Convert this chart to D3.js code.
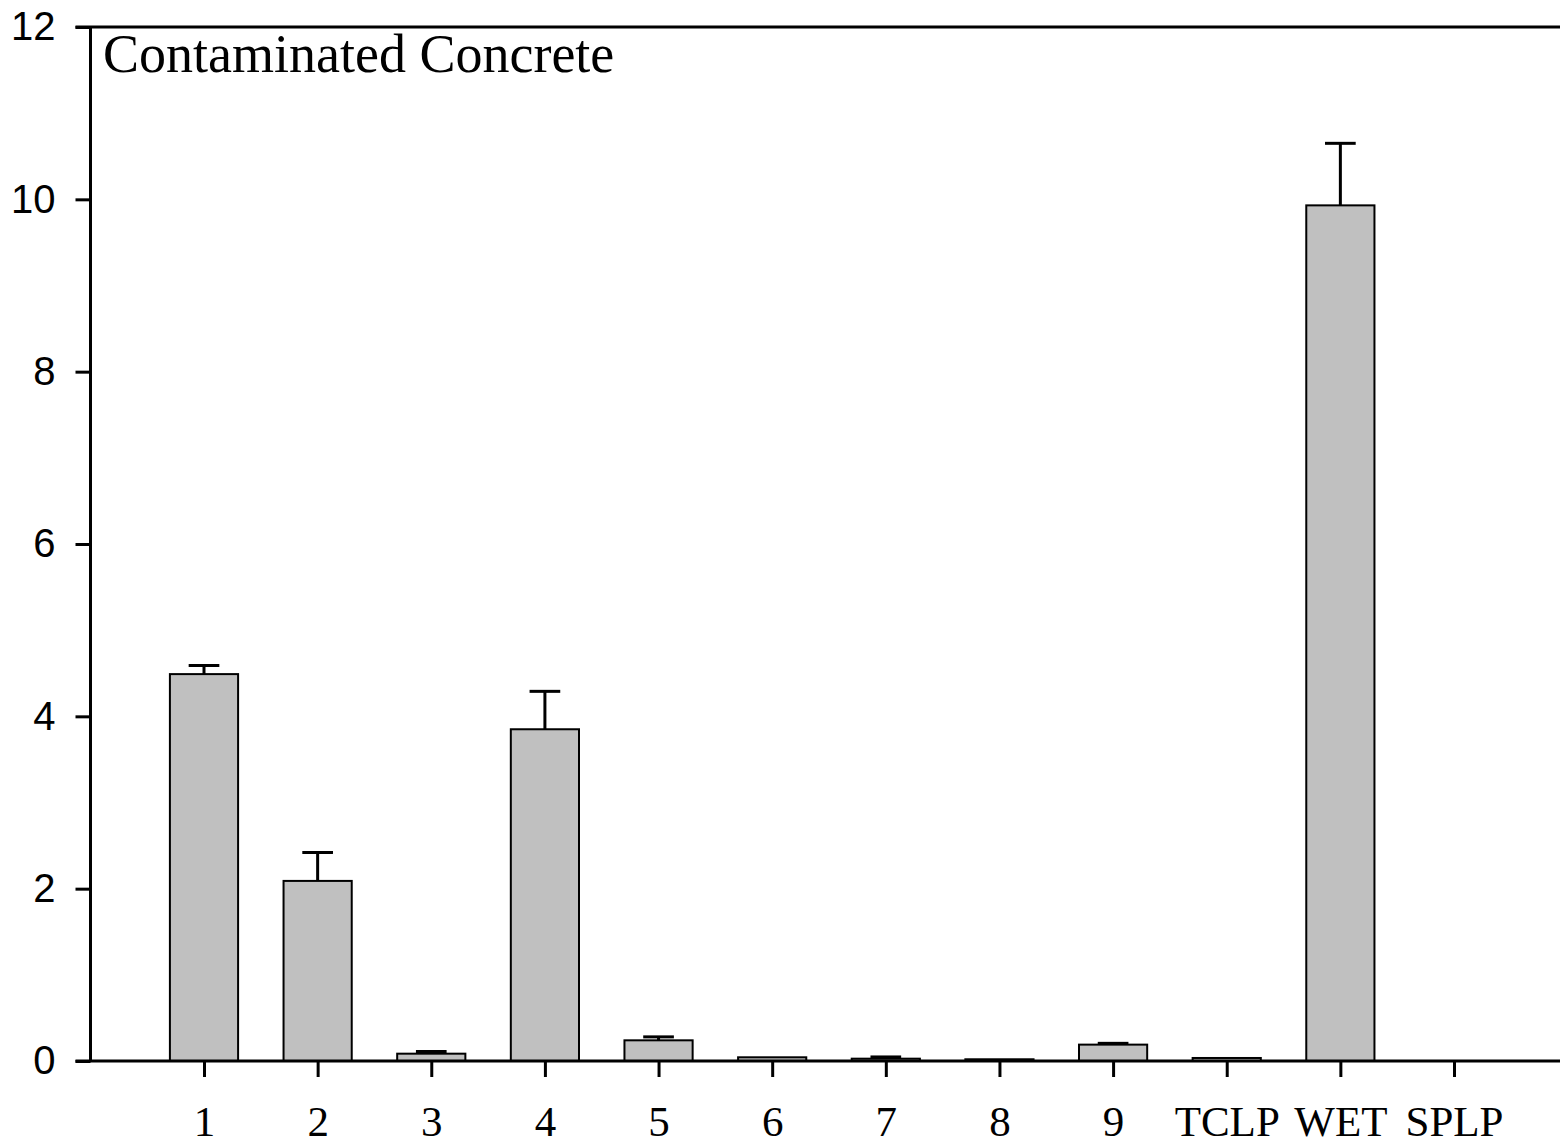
<!DOCTYPE html>
<html>
<head>
<meta charset="utf-8">
<script src="https://cdn.jsdelivr.net/npm/d3@7"></script>
<style>
html,body{margin:0;padding:0;background:#fff;overflow:hidden;}
svg{display:block;}
</style>
</head>
<body>
<svg id="chart" width="1560" height="1144"></svg>
<script>
const categories = ["1","2","3","4","5","6","7","8","9","TCLP","WET","SPLP"];
const means = [4.49, 2.09, 0.085, 3.85, 0.24, 0.043, 0.027, 0.02, 0.19, 0.035, 9.93, 0];
const errors = [0.10, 0.33, 0.025, 0.44, 0.04, 0, 0.02, 0, 0.015, 0, 0.72, 0];
const yTicks = [0, 2, 4, 6, 8, 10, 12];
const title = "Contaminated Concrete";

(function(){
const svg = d3.select("#chart");
const mLeft = 90.5, mRight = 1567, mTop = 27, mBottom = 1061;

const x = d3.scalePoint().domain(categories).range([204, 1454]);
const step = x.step();
const barW = step * 0.6;
const capW = step * 0.27;
const y = d3.scaleLinear().domain([0, 12]).range([mBottom, mTop]);

// bars
svg.append("g").selectAll("rect")
  .data(categories.map((c, i) => ({c, v: means[i], e: errors[i]})).filter(d => d.v > 0))
  .join("rect")
  .attr("x", d => x(d.c) - barW / 2)
  .attr("width", barW)
  .attr("y", d => y(d.v))
  .attr("height", d => y(0) - y(d.v))
  .attr("fill", "#c0c0c0")
  .attr("stroke", "#000")
  .attr("stroke-width", 2);

// error bars (upward only)
const eg = svg.append("g").attr("stroke", "#000").attr("stroke-width", 3);
categories.forEach((c, i) => {
  if (errors[i] > 0) {
    eg.append("line").attr("x1", x(c)).attr("x2", x(c))
      .attr("y1", y(means[i])).attr("y2", y(means[i] + errors[i]));
    eg.append("line").attr("x1", x(c) - capW / 2).attr("x2", x(c) + capW / 2)
      .attr("y1", y(means[i] + errors[i])).attr("y2", y(means[i] + errors[i]));
  }
});

// Y axis
const yAxis = d3.axisLeft(y).tickValues(yTicks).tickSize(15).tickPadding(20).tickFormat(d3.format("d"));
const gy = svg.append("g").attr("transform", `translate(${mLeft},0)`).call(yAxis);
gy.select(".domain").remove();
gy.selectAll(".tick line").attr("stroke-width", 3);
gy.selectAll(".tick text").attr("font-family", "'Liberation Sans', Arial, sans-serif")
  .attr("font-size", 40).attr("fill", "#000");
svg.append("line").attr("x1", mLeft).attr("x2", mLeft).attr("y1", mTop).attr("y2", mBottom)
  .attr("stroke", "#000").attr("stroke-width", 3);

// X axis
const xAxis = d3.axisBottom(x).tickSize(16).tickPadding(28);
const gx = svg.append("g").attr("transform", `translate(0,${mBottom})`).call(xAxis);
gx.select(".domain").remove();
gx.selectAll(".tick line").attr("stroke-width", 3);
gx.selectAll(".tick text").attr("font-family", "'Liberation Serif', 'Times New Roman', serif")
  .attr("font-size", 43).attr("fill", "#000");
svg.append("line").attr("x1", mLeft - 15).attr("x2", mRight).attr("y1", mBottom).attr("y2", mBottom)
  .attr("stroke", "#000").attr("stroke-width", 3);

// top frame
svg.append("line").attr("x1", mLeft - 15).attr("x2", mRight).attr("y1", mTop).attr("y2", mTop)
  .attr("stroke", "#000").attr("stroke-width", 3);

// title
svg.append("text").attr("x", 103).attr("y", 72)
  .attr("font-family", "'Liberation Serif', 'Times New Roman', serif")
  .attr("font-size", 54).attr("fill", "#000").text(title);
})();
</script>
</body>
</html>
